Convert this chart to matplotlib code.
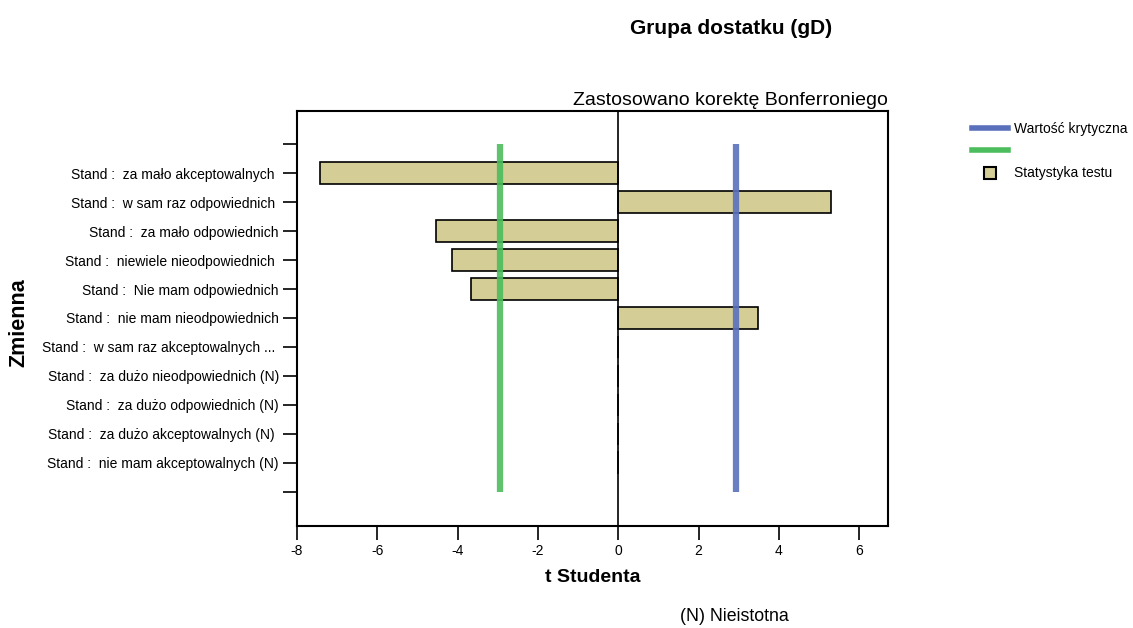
import matplotlib.pyplot as plt
from matplotlib.lines import Line2D

plt.rcParams['font.family'] = ['Liberation Sans', 'DejaVu Sans']

# test statistic per variable (non-significant ones marked with (N))
variables = [
    "Stand :  za mało akceptowalnych ",
    "Stand :  w sam raz odpowiednich ",
    "Stand :  za mało odpowiednich",
    "Stand :  niewiele nieodpowiednich ",
    "Stand :  Nie mam odpowiednich",
    "Stand :  nie mam nieodpowiednich",
    "Stand :  w sam raz akceptowalnych ... ",
    "Stand :  za dużo nieodpowiednich (N)",
    "Stand :  za dużo odpowiednich (N)",
    "Stand :  za dużo akceptowalnych (N) ",
    "Stand :  nie mam akceptowalnych (N)",
]
t_values = [-7.42, 5.30, -4.53, -4.13, -3.66, 3.48, 0, 0, 0, 0, 0]
critical = 2.94
x_ticks = [-8, -6, -4, -2, 0, 2, 4, 6]

bar_color = '#d4cd96'
blue = '#5a70bc'
green = '#4cbd5c'

fig = plt.figure(figsize=(11.33, 6.28), dpi=100)
ax = fig.add_axes([0.262, 0.163, 0.522, 0.66])

pos = list(range(1, len(variables) + 1))
ax.barh(pos, t_values, height=0.77, color=bar_color, edgecolor='black',
        linewidth=1.2, zorder=2)

# critical value lines span the tick range, drawn over the bars
ax.plot([critical, critical], [0, len(variables) + 1], color=blue, lw=4.5,
        alpha=0.9, solid_capstyle='butt', zorder=3)
ax.plot([-critical, -critical], [0, len(variables) + 1], color=green, lw=4.5,
        alpha=0.9, solid_capstyle='butt', zorder=3)
ax.axvline(0, color='black', lw=1.2, zorder=4)

ax.set_xlim(-8, 6.72)
ax.set_ylim(len(variables) + 2.18, -1.15)
ax.set_xticks(x_ticks)
ax.set_xticklabels([str(v) for v in x_ticks])
ax.set_yticks([0] + pos + [len(variables) + 1])
ax.set_yticklabels([''] + variables + [''])
ax.tick_params(axis='both', direction='out', length=10, width=1.2,
               labelsize=10, colors='black')
ax.tick_params(axis='y', pad=3)
for s in ax.spines.values():
    s.set_linewidth(1.5)

ax.set_xlabel('t Studenta', fontsize=14, fontweight='bold', labelpad=8)
ax.set_ylabel('Zmienna', fontsize=15.5, fontweight='bold')
ax.yaxis.set_label_coords(-0.452, 0.49)

ax.text(1.0, 1.005, 'Zastosowano korektę Bonferroniego', transform=ax.transAxes,
        ha='right', va='bottom', fontsize=14)
fig.text(0.645, 0.955, 'Grupa dostatku (gD)', ha='center', va='center',
         fontsize=15, fontweight='bold')
fig.text(0.648, 0.004, '(N) Nieistotna', ha='center', va='bottom', fontsize=12.8)

handles = [
    Line2D([], [], color=blue, lw=4),
    Line2D([], [], color=green, lw=4),
    Line2D([], [], ls='none', marker='s', markersize=8,
           markerfacecolor=bar_color, markeredgecolor='black', markeredgewidth=1.5),
]
fig.legend(handles, ['Wartość krytyczna', '', 'Statystyka testu'],
           loc='upper left', bbox_to_anchor=(0.847, 0.826), frameon=False,
           fontsize=10, handlelength=2.55, handletextpad=0.45, labelspacing=0.6)

fig.savefig('out.png', dpi=100)
